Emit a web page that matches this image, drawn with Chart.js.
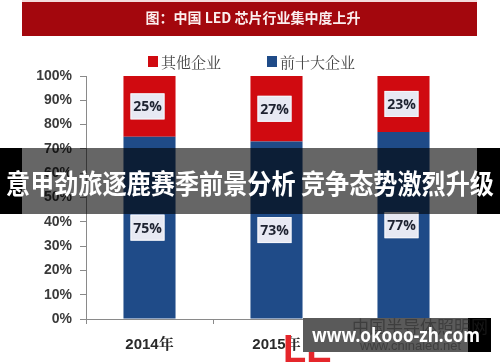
<!DOCTYPE html>
<html>
<head>
<meta charset="utf-8">
<script src="https://cdn.jsdelivr.net/npm/chart.js@4/dist/chart.umd.min.js"></script>
<style>
  html, body { margin: 0; padding: 0; background: #fff; }
  #wrap { width: 500px; height: 362px; position: relative; }
</style>
</head>
<body>
<div id="wrap"><canvas id="chart" width="500" height="362"></canvas></div>
<script>
// Data
const years = ['2014年', '2015年', '2016年']
const topTenShare = [75, 73, 77]
const otherShare = [25, 27, 23]
const seriesNames = ['前十大企业', '其他企业']
const yTickValues = [0, 10, 20, 30, 40, 50, 60, 70, 80, 90, 100]

const chartTitle = '图：中国 LED 芯片行业集中度上升'
const bannerText = '意甲劲旅逐鹿赛季前景分析 竞争态势激烈升级'
const watermarkText = 'www.okooo-zh.com'

const RED = '#d00a10'
const BLUE = '#1f4b88'
const CJK = '"Noto Sans CJK SC", "Noto Sans", sans-serif'

// Title bar + legend, painted under the chart
const backdrop = {
  id: 'backdrop',
  beforeDraw(chart) {
    const ctx = chart.ctx
    ctx.save()
    ctx.fillStyle = '#fff'
    ctx.fillRect(0, 0, chart.width, chart.height)

    // red title bar
    ctx.fillStyle = '#f3dcdc'
    ctx.fillRect(22, 0, 455, 2)
    ctx.fillStyle = '#a3070d'
    ctx.fillRect(22, 2, 455, 34)
    ctx.fillStyle = '#fbeeee'
    ctx.font = 'bold 14px ' + CJK
    ctx.textAlign = 'center'
    ctx.textBaseline = 'middle'
    ctx.fillText(chartTitle, 253, 18)

    // legend (reversed: 其他企业 first)
    const items = chart.data.datasets.slice().reverse()
    const xs = [148, 267]
    ctx.textAlign = 'left'
    ctx.font = '15px "Noto Serif CJK SC", ' + CJK
    items.forEach((ds, i) => {
      ctx.fillStyle = ds.backgroundColor
      ctx.fillRect(xs[i], 56, 10, 11)
      ctx.fillStyle = '#444'
      ctx.fillText(ds.label, xs[i] + 13, 62)
    })
    ctx.restore()
  }
}

// value boxes on each bar segment
const valueBoxes = {
  id: 'valueBoxes',
  afterDatasetsDraw(chart) {
    const ctx = chart.ctx
    ctx.save()
    ctx.font = 'bold 14px "Open Sans", "Liberation Sans", sans-serif'
    ctx.textAlign = 'center'
    ctx.textBaseline = 'middle'
    chart.data.datasets.forEach((ds, di) => {
      const meta = chart.getDatasetMeta(di)
      meta.data.forEach((bar, i) => {
        const cx = bar.x - 2
        const cy = (bar.y + bar.base) / 2
        const w = 34, h = 26
        ctx.fillStyle = '#e7e9f3'
        ctx.fillRect(cx - w / 2, cy - h / 2, w, h)
        ctx.strokeStyle = '#f6f7fb'
        ctx.lineWidth = 1
        ctx.strokeRect(cx - w / 2 + 0.5, cy - h / 2 + 0.5, w - 1, h - 1)
        ctx.fillStyle = '#1d2230'
        ctx.fillText(ds.data[i] + '%', cx, cy + 1)
      })
    })
    ctx.restore()
  }
}

// overlay banner and watermark on top of everything
const overlays = {
  id: 'overlays',
  afterDraw(chart) {
    const ctx = chart.ctx
    ctx.save()

    // headline banner
    ctx.fillStyle = '#000'
    ctx.fillRect(0, 148, 22, 66)
    ctx.fillRect(477, 148, 23, 66)
    ctx.fillStyle = 'rgba(0,0,0,0.6)'
    ctx.fillRect(22, 148, 455, 66)
    ctx.fillStyle = '#fff'
    ctx.font = 'bold 27px ' + CJK
    ctx.textAlign = 'center'
    ctx.textBaseline = 'middle'
    const bw = ctx.measureText(bannerText).width
    ctx.save()
    ctx.translate(250, 184)
    ctx.scale(Math.min(1, 488 / bw), 1)
    ctx.fillText(bannerText, 0, 0)
    ctx.restore()

    // site logo remnants behind the watermark
    ctx.fillStyle = '#e5262b'
    ctx.font = 'bold 38px "Liberation Sans", sans-serif'
    ctx.textAlign = 'left'
    ctx.textBaseline = 'alphabetic'
    ctx.fillText('LE', 283, 362)

    // watermark box
    ctx.fillStyle = '#5a5a5a'
    ctx.fillRect(303, 318, 165, 34)
    ctx.fillStyle = '#000'
    ctx.fillRect(468, 318, 23, 34)
    ctx.fillStyle = 'rgba(40,40,40,0.55)'
    ctx.font = '17px ' + CJK
    ctx.fillText('中国半导体照明网', 352, 333)
    ctx.font = '13px "Liberation Sans", sans-serif'
    ctx.fillText('www.chinaled.net', 360, 350)

    ctx.fillStyle = '#fff'
    ctx.font = 'bold 20px "Noto Sans", "DejaVu Sans", sans-serif'
    ctx.textAlign = 'center'
    ctx.textBaseline = 'middle'
    const ww = ctx.measureText(watermarkText).width
    ctx.save()
    ctx.translate(396, 336)
    ctx.scale(Math.min(1, 168 / ww), 1)
    ctx.fillText(watermarkText, 0, 0)
    ctx.restore()

    ctx.restore()
  }
}

new Chart(document.getElementById('chart'), {
  type: 'bar',
  data: {
    labels: years,
    datasets: [
      {
        label: seriesNames[0],
        data: topTenShare,
        backgroundColor: BLUE,
        borderWidth: 0
      },
      {
        label: seriesNames[1],
        data: otherShare,
        backgroundColor: RED,
        borderWidth: 0
      }
    ]
  },
  options: {
    responsive: false,
    animation: false,
    devicePixelRatio: 1,
    categoryPercentage: 1,
    barPercentage: 0.41,
    layout: { padding: { left: 0, right: 33, top: 76, bottom: 0 } },
    plugins: {
      legend: { display: false },
      tooltip: { enabled: false }
    },
    scales: {
      x: {
        stacked: true,
        grid: { offset: true, drawOnChartArea: false, tickLength: 5, color: '#8a8a8a' },
        border: { color: '#8a8a8a' },
        ticks: {
          color: '#2a2a2a',
          padding: 12,
          font: { family: '"Liberation Sans", "Noto Serif CJK SC", sans-serif', size: 15, weight: 'bold' }
        },
        afterFit(scale) { scale.height = 43 }
      },
      y: {
        stacked: true,
        min: 0,
        max: 100,
        afterBuildTicks(scale) {
          scale.ticks = yTickValues.map(v => ({ value: v }))
        },
        grid: { drawOnChartArea: false, tickLength: 6, color: '#8a8a8a' },
        border: { color: '#8a8a8a' },
        ticks: {
          color: '#3a3a3a',
          padding: 8,
          font: { family: '"Liberation Sans", Arial, sans-serif', size: 14, weight: 'bold' },
          callback: v => v + '%'
        },
        afterFit(scale) { scale.width = 86 }
      }
    }
  },
  plugins: [backdrop, valueBoxes, overlays]
})
</script>
</body>
</html>
